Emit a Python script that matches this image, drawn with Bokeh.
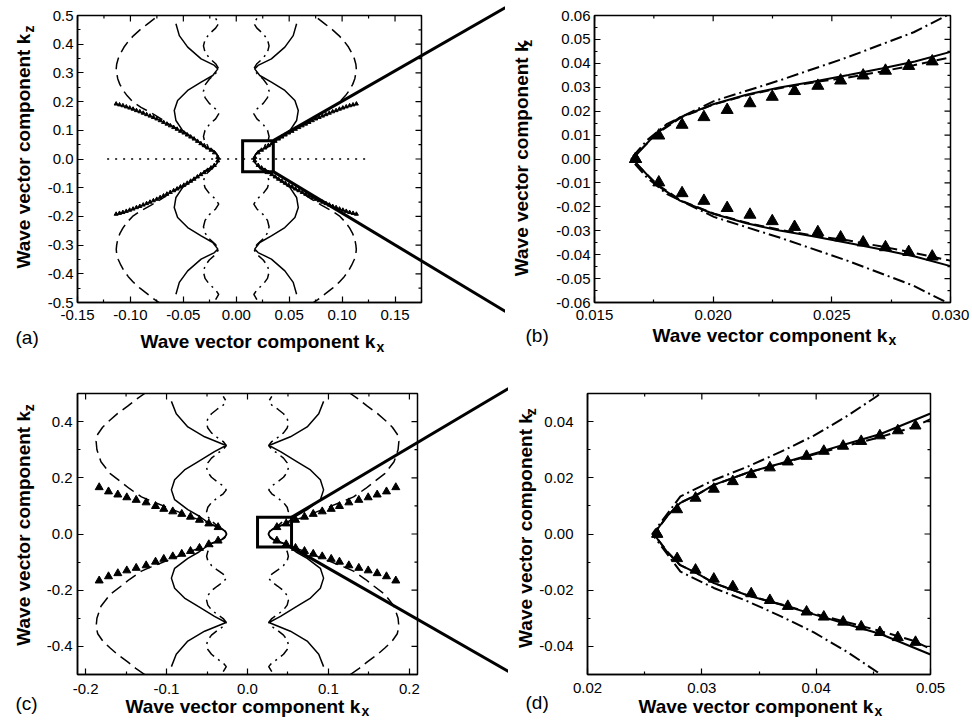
import math
from bokeh.plotting import figure
from bokeh.layouts import row, column
from bokeh.models import LinearAxis, FixedTicker, NumeralTickFormatter, Range1d
from bokeh.core.properties import value
from bokeh.embed import file_html
from bokeh.resources import INLINE

FONT = "Liberation Sans"

# ---------------- data (upper-right quadrant, curves mirror in kx and kz)
# top row (panels a, b)
A_SOLID_KX = [0.0166, 0.0176, 0.0186, 0.0200, 0.0214, 0.0228, 0.0242, 0.0257, 0.0271, 0.0285, 0.0300, 0.0340,
              0.0396, 0.0506, 0.0570, 0.0586, 0.0554, 0.0459, 0.0332, 0.0222, 0.0174, 0.0206, 0.0332, 0.0459,
              0.0538, 0.0570]
A_SOLID_KZ = [0.0, 0.0107, 0.0174, 0.0229, 0.0269, 0.0299, 0.0323, 0.0351, 0.0378, 0.0408, 0.0448, 0.0550,
              0.0700, 0.0990, 0.1340, 0.1690, 0.2040, 0.2390, 0.2680, 0.2910, 0.3140, 0.3260, 0.3490, 0.3900,
              0.4300, 0.4710]
A_DASH_KX = [0.01655, 0.01765, 0.01865, 0.02005, 0.0215, 0.02295, 0.0244, 0.02565, 0.02705, 0.02845, 0.0300,
             0.036, 0.044, 0.053, 0.063, 0.071, 0.080, 0.090, 0.098, 0.103, 0.107, 0.110, 0.112, 0.113, 0.1134,
             0.113, 0.1115, 0.109, 0.106, 0.102, 0.097, 0.091, 0.084, 0.077, 0.069]
A_DASH_KZ = [0.0, 0.0107, 0.0174, 0.0229, 0.0269, 0.0299, 0.0323, 0.034, 0.0365, 0.0392, 0.0425,
             0.06, 0.08, 0.10, 0.12, 0.14, 0.16, 0.18, 0.20, 0.22, 0.24, 0.26, 0.28, 0.30, 0.315,
             0.33, 0.35, 0.37, 0.39, 0.41, 0.43, 0.45, 0.47, 0.49, 0.51]
A_DD_KX = [0.01652, 0.01722, 0.01806, 0.02003, 0.02284, 0.02565, 0.02845, 0.02986, 0.0310, 0.0295, 0.0255,
           0.0195, 0.0166, 0.0195, 0.0255, 0.0295, 0.0310, 0.0295, 0.0255, 0.0195, 0.0166, 0.0195, 0.0255,
           0.0295, 0.0310, 0.0295, 0.0255, 0.0195, 0.0166, 0.0195]
A_DD_KZ = [0.0, 0.0079, 0.0147, 0.0242, 0.033, 0.0425, 0.053, 0.0601, 0.079, 0.10, 0.12, 0.14, 0.157, 0.174,
           0.194, 0.214, 0.236, 0.258, 0.278, 0.298, 0.315, 0.332, 0.352, 0.372, 0.394, 0.416, 0.436, 0.456,
           0.472, 0.49]
A_TRI_KX = [0.0175, 0.0207, 0.0239, 0.0271, 0.0303, 0.0335, 0.0367, 0.0399, 0.0431, 0.0463, 0.0495, 0.0527,
            0.0559, 0.0591, 0.0623, 0.0655, 0.0687, 0.0719, 0.0751, 0.0783, 0.0815, 0.0847, 0.0879, 0.0911,
            0.0943, 0.0975, 0.1007, 0.1039, 0.1071, 0.1103, 0.1135]
A_TRI_KZ = [0.006, 0.022, 0.031, 0.039, 0.047, 0.054, 0.062, 0.070, 0.077, 0.084, 0.091, 0.097, 0.104, 0.110,
            0.116, 0.122, 0.128, 0.134, 0.140, 0.145, 0.150, 0.155, 0.160, 0.165, 0.169, 0.174, 0.178, 0.182,
            0.186, 0.189, 0.192]
A_DOT_KX = [-0.122, 0.122]
A_DOT_KZ = [0.0, 0.0]
B_TRI_KX = [0.01673, 0.01771, 0.01869, 0.01961, 0.02059, 0.02155, 0.02249, 0.02343, 0.02441, 0.02537, 0.02632,
            0.02726, 0.02824, 0.02923]
B_TRI_KZ = [0.0, 0.0098, 0.0143, 0.0175, 0.0205, 0.0233, 0.0260, 0.0284, 0.0306, 0.0328, 0.0349, 0.0369,
            0.0389, 0.0408]
A_BOX = dict(left=0.006, right=0.035, bottom=-0.044, top=0.064)

# bottom row (panels c, d)
C_SOLID_KX = [0.0258, 0.02697, 0.02813, 0.02959, 0.03105, 0.03397, 0.03688, 0.0398, 0.04272, 0.04563, 0.0500,
              0.0600, 0.0737, 0.0900, 0.0940, 0.0900, 0.0778, 0.0614, 0.0408, 0.0265, 0.0325, 0.0530, 0.0737,
              0.0880, 0.0940]
C_SOLID_KZ = [0.0, 0.0064, 0.0111, 0.0140, 0.0175, 0.0218, 0.0251, 0.0286, 0.0321, 0.0356, 0.0429, 0.064,
              0.0866, 0.122, 0.157, 0.193, 0.228, 0.257, 0.293, 0.315, 0.322, 0.346, 0.381, 0.428, 0.472]
C_DASH_KX = [0.0258, 0.0270, 0.0281, 0.0296, 0.0311, 0.0340, 0.0369, 0.0398, 0.0427, 0.0456, 0.0485, 0.0500,
             0.070, 0.095, 0.119, 0.131, 0.146, 0.156, 0.170, 0.181, 0.186, 0.187, 0.185, 0.179, 0.170, 0.160,
             0.148, 0.138, 0.127]
C_DASH_KZ = [0.0, 0.0064, 0.0111, 0.0140, 0.0175, 0.0218, 0.0250, 0.0283, 0.0314, 0.0345, 0.0380, 0.0409,
             0.061, 0.090, 0.117, 0.132, 0.162, 0.185, 0.216, 0.257, 0.300, 0.330, 0.355, 0.380, 0.405, 0.430,
             0.455, 0.478, 0.500]
C_DD_KX = [0.02566, 0.02813, 0.03105, 0.03397, 0.03688, 0.0398, 0.04272, 0.04534, 0.0490, 0.0505, 0.0490,
           0.0445, 0.0375, 0.0300, 0.0262, 0.0300, 0.0375, 0.0445, 0.0490, 0.0505, 0.0490, 0.0445, 0.0375,
           0.0300, 0.0262, 0.0300, 0.0375, 0.0445, 0.0490, 0.0505, 0.0490, 0.0445, 0.0375, 0.0300, 0.0262,
           0.0300]
C_DD_KZ = [0.0, 0.0134, 0.0192, 0.0239, 0.0292, 0.035, 0.042, 0.0491, 0.062, 0.079, 0.095, 0.112, 0.128,
           0.143, 0.157, 0.171, 0.186, 0.202, 0.219, 0.236, 0.253, 0.27, 0.286, 0.301, 0.315, 0.329, 0.344,
           0.36, 0.377, 0.394, 0.411, 0.428, 0.444, 0.459, 0.472, 0.49]
C_TRI_KX = [0.0363, 0.0478, 0.0593, 0.0704, 0.0812, 0.0923, 0.1034, 0.1136, 0.1252, 0.1375, 0.1491, 0.1602,
            0.1717, 0.1832]
C_TRI_KZ = [0.024, 0.037, 0.050, 0.061, 0.071, 0.080, 0.089, 0.099, 0.112, 0.121, 0.130, 0.140, 0.151, 0.166]
D_TRI_KX = [0.0261, 0.02784, 0.02945, 0.03105, 0.03271, 0.03432, 0.03595, 0.03752, 0.03916, 0.04067, 0.04236,
            0.04394, 0.04557, 0.04714, 0.04869]
D_TRI_KZ = [0.0, 0.0087, 0.0128, 0.0160, 0.0187, 0.0212, 0.0236, 0.0257, 0.0277, 0.0295, 0.0313, 0.0330,
            0.0350, 0.0368, 0.0385]
C_BOX = dict(left=0.0124, right=0.0544, bottom=-0.0466, top=0.0594)

# axis ticks / labels
A_XTICKS = [-0.15, -0.10, -0.05, 0.0, 0.05, 0.10, 0.15]
A_XMINOR = [-0.125, -0.075, -0.025, 0.025, 0.075, 0.125, 0.175]
A_YTICKS = [-0.5, -0.4, -0.3, -0.2, -0.1, 0.0, 0.1, 0.2, 0.3, 0.4, 0.5]
A_YMINOR = [-0.45, -0.35, -0.25, -0.15, -0.05, 0.05, 0.15, 0.25, 0.35, 0.45]
B_XTICKS = [0.015, 0.020, 0.025, 0.030]
B_XMINOR = [0.0175, 0.0225, 0.0275]
B_YTICKS = [-0.06, -0.05, -0.04, -0.03, -0.02, -0.01, 0.0, 0.01, 0.02, 0.03, 0.04, 0.05, 0.06]
B_YMINOR = [-0.055, -0.045, -0.035, -0.025, -0.015, -0.005, 0.005, 0.015, 0.025, 0.035, 0.045, 0.055]
C_XTICKS = [-0.2, -0.1, 0.0, 0.1, 0.2]
C_XMINOR = [-0.15, -0.05, 0.05, 0.15]
C_YTICKS = [-0.4, -0.2, 0.0, 0.2, 0.4]
C_YMINOR = [-0.5, -0.3, -0.1, 0.1, 0.3, 0.5]
D_XTICKS = [0.02, 0.03, 0.04, 0.05]
D_XMINOR = [0.025, 0.035, 0.045]
D_YTICKS = [-0.04, -0.02, 0.0, 0.02, 0.04]
D_YMINOR = [-0.05, -0.03, -0.01, 0.01, 0.03, 0.05]

XLABEL = "Wave vector component k"
PANEL_LETTERS = ["(a)", "(b)", "(c)", "(d)"]

MAJOR_LEN = 6
MINOR_LEN = 3
TEXT_SHIFT = 6   # bokeh places the alphabetic baseline this many px lower than the anchor


# ---------------- helpers
def full_branch(kx, kz):
    xs = list(reversed(kx)) + list(kx[1:])
    zs = [-z for z in reversed(kz)] + list(kz[1:])
    return xs, zs


def add_curve(p, kx, kz, **kw):
    xs, zs = full_branch(kx, kz)
    p.line(xs, zs, line_color="black", **kw)
    p.line([-x for x in xs], zs, line_color="black", **kw)


def add_tris(p, kx, kz, size):
    xs, zs = [], []
    for sx in (1, -1):
        for sz in (1, -1):
            xs += [sx * x for x in kx]
            zs += [sz * z for z in kz]
    p.scatter(xs, zs, marker="triangle", size=size, fill_color="black", line_color="black")


def make_axis(ticks, minor, fmt, standoff):
    return LinearAxis(
        ticker=FixedTicker(ticks=ticks, minor_ticks=minor),
        formatter=NumeralTickFormatter(format=fmt),
        major_tick_in=MAJOR_LEN, major_tick_out=0, minor_tick_in=MINOR_LEN, minor_tick_out=0,
        axis_line_width=1.5, axis_line_color="black",
        major_tick_line_width=1.2, minor_tick_line_width=1.2,
        major_tick_line_color="black", minor_tick_line_color="black",
        major_label_text_font=FONT,
        major_label_text_font_size="15px",
        major_label_text_color="black",
        major_label_standoff=standoff,
    )


def make_panel(W, H, frame, xr, yr, xt, xm, xf, yt, ym, yf, xstand, ystand):
    L, T, R, B = frame
    p = figure(width=W, height=H, x_range=Range1d(*xr), y_range=Range1d(*yr),
               output_backend="svg", toolbar_location=None,
               x_axis_location=None, y_axis_location=None,
               min_border_left=L, min_border_right=W - R, min_border_top=T, min_border_bottom=H - B)
    p.grid.visible = False
    p.outline_line_color = "black"
    p.outline_line_width = 1.5
    p.background_fill_color = "white"
    p.border_fill_color = "white"
    p.add_layout(make_axis(xt, xm, xf, xstand), "below")
    p.add_layout(make_axis(yt, ym, yf, ystand), "left")

    sx = (xr[1] - xr[0]) / (R - L)   # data units per pixel
    sy = (yr[1] - yr[0]) / (B - T)

    # mirrored inward ticks on the top and right frame edges
    for ticks, ln in ((xt, MAJOR_LEN), (xm, MINOR_LEN)):
        p.segment(x0=ticks, y0=[yr[1]] * len(ticks), x1=ticks, y1=[yr[1] - ln * sy] * len(ticks),
                  line_color="black", line_width=1.2)
    for ticks, ln in ((yt, MAJOR_LEN), (ym, MINOR_LEN)):
        p.segment(x0=[xr[1]] * len(ticks), y0=ticks, x1=[xr[1] - ln * sx] * len(ticks), y1=ticks,
                  line_color="black", line_width=1.2)

    def fx(px):
        return xr[0] + (px - L) * sx

    def fy(py):
        return yr[1] - (py - T) * sy
    return p, fx, fy


def add_texts(p, fx, fy, xlab, ylab, letter, letter_text, sub_x, sub_z):
    main_w = 235
    fs = "19px"
    s = TEXT_SHIFT
    common = dict(text_font=value(FONT), text_color="black", text_baseline="alphabetic",
                  text_align="left", level="overlay")
    x0, y0 = xlab
    p.text(x=[fx(x0)], y=[fy(y0 - s)], text=[XLABEL], text_font_size=fs, text_font_style="bold", **common)
    p.text(x=[fx(x0 + main_w + 1)], y=[fy(y0 - s + 5)], text=[sub_x], text_font_size="14px",
           text_font_style="bold", **common)
    bx, by = ylab
    p.text(x=[fx(bx - s)], y=[fy(by)], text=[XLABEL], angle=math.pi / 2, text_font_size=fs,
           text_font_style="bold", **common)
    p.text(x=[fx(bx - s + 5)], y=[fy(by - main_w - 1)], text=[sub_z], angle=math.pi / 2,
           text_font_size="14px", text_font_style="bold", **common)
    lx, ly = letter
    p.text(x=[fx(lx)], y=[fy(ly - s)], text=[letter_text], text_font_size="19px", **common)


def add_zoom(p, fx, fy, box, end_top, end_bot):
    p.quad(left=[box["left"]], right=[box["right"]], bottom=[box["bottom"]], top=[box["top"]],
           fill_color=None, line_color="black", line_width=3, line_join="miter")
    p.segment(x0=[box["right"], box["right"]], y0=[box["top"], box["bottom"]],
              x1=[fx(end_top[0]), fx(end_bot[0])], y1=[fy(end_top[1]), fy(end_bot[1])],
              line_color="black", line_width=3, level="overlay")


# ---------------- panel (a)
pa, fxa, fya = make_panel(505, 360, (77, 15, 421, 302), (-0.15, 0.175), (-0.5, 0.5),
                          A_XTICKS, A_XMINOR, "0.00", A_YTICKS, A_YMINOR, "0.0", 7, 4)
pa.line(A_DOT_KX, A_DOT_KZ, line_color="black", line_width=1.5, line_dash="2 6")
add_curve(pa, A_DASH_KX, A_DASH_KZ, line_width=1.5, line_dash="12 6")
add_curve(pa, A_DD_KX, A_DD_KZ, line_width=1.5, line_dash="10 5 2 5")
add_curve(pa, A_SOLID_KX, A_SOLID_KZ, line_width=1.5)
add_tris(pa, A_TRI_KX, A_TRI_KZ, 4)
add_zoom(pa, fxa, fya, A_BOX, (505, 7), (505, 311))
add_texts(pa, fxa, fya, (140, 347), (29, 268), (15, 343), PANEL_LETTERS[0], "x", "z")

# ---------------- panel (b)
pb, fxb, fyb = make_panel(467, 360, (89, 12, 445, 307), (0.015, 0.030), (-0.06, 0.06),
                          B_XTICKS, B_XMINOR, "0.000", B_YTICKS, B_YMINOR, "0.00", 7, 4)
add_curve(pb, A_DASH_KX, A_DASH_KZ, line_width=2, line_dash="10 5")
add_curve(pb, A_DD_KX, A_DD_KZ, line_width=2, line_dash="12 4 2 4")
add_curve(pb, A_SOLID_KX, A_SOLID_KZ, line_width=2)
add_tris(pb, B_TRI_KX, B_TRI_KZ, 12)
add_texts(pb, fxb, fyb, (147, 347), (22, 280), (20, 347), PANEL_LETTERS[1], "x", "z")

# ---------------- panel (c)
pc, fxc, fyc = make_panel(508, 365, (77, 33, 417, 316), (-0.21, 0.21), (-0.5, 0.5),
                          C_XTICKS, C_XMINOR, "0.0", C_YTICKS, C_YMINOR, "0.0", 9, 5)
add_curve(pc, C_DASH_KX, C_DASH_KZ, line_width=1.5, line_dash="12 6")
add_curve(pc, C_DD_KX, C_DD_KZ, line_width=1.5, line_dash="10 5 2 5")
add_curve(pc, C_SOLID_KX, C_SOLID_KZ, line_width=1.5)
add_tris(pc, C_TRI_KX, C_TRI_KZ, 8)
add_zoom(pc, fxc, fyc, C_BOX, (508, 28), (508, 313))
add_texts(pc, fxc, fyc, (125, 354), (29, 287), (15, 351), PANEL_LETTERS[2], "x", "z")

# ---------------- panel (d)
pd, fxd, fyd = make_panel(464, 365, (79, 29, 422, 314), (0.02, 0.05), (-0.05, 0.05),
                          D_XTICKS, D_XMINOR, "0.00", D_YTICKS, D_YMINOR, "0.00", 8, 14)
add_curve(pd, C_DASH_KX, C_DASH_KZ, line_width=2, line_dash="10 5")
add_curve(pd, C_DD_KX, C_DD_KZ, line_width=2, line_dash="12 4 2 4")
add_curve(pd, C_SOLID_KX, C_SOLID_KZ, line_width=2)
add_tris(pd, D_TRI_KX, D_TRI_KZ, 11)
add_texts(pd, fxd, fyd, (130, 352), (23, 287), (17, 348), PANEL_LETTERS[3], "x", "z")

layout = column(row(pa, pb, spacing=0), row(pc, pd, spacing=0), spacing=0)
open("out.html", "w").write(file_html(layout, INLINE, title="Wave vector components"))
